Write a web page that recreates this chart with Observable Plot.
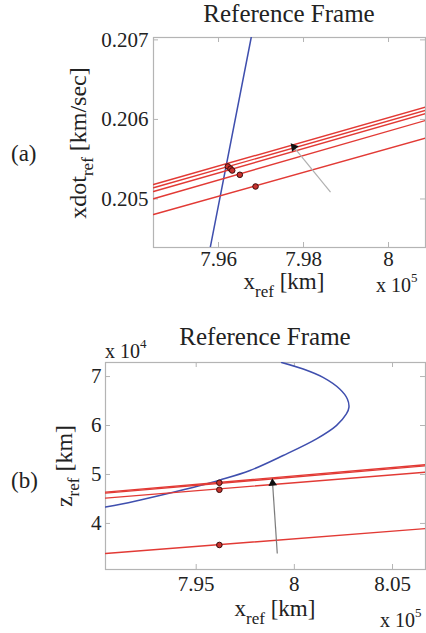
<!DOCTYPE html>
<html>
<head>
<meta charset="utf-8">
<script src="https://cdn.jsdelivr.net/npm/d3@7"></script>
<script src="https://cdn.jsdelivr.net/npm/@observablehq/plot@0.6"></script>
<style>
  html, body { margin: 0; padding: 0; background: #fff; }
  #root { position: relative; width: 426px; height: 633px; overflow: hidden; background: #fff;
          font-family: "Liberation Serif", "Times New Roman", serif; }
  #root > svg, #root > div { position: absolute; left: 0; }
  #root svg text { font-family: "Liberation Serif", "Times New Roman", serif; }
  #overlay { pointer-events: none; }
</style>
</head>
<body>
<div id="root"></div>
<script>
// ---------- Panel (a): xdot_ref vs x_ref ----------
const xTicksA = [7.96, 7.98, 8.00];          // x 10^5 km
const yTicksA = [0.205, 0.206, 0.207];       // km/sec
const xDomainA = [7.9447, 8.0087];
const yDomainA = [0.20439, 0.20703];

const redXA = [7.9447, 8.0087];
const redA1 = [0.205182, 0.206155];
const redA2 = [0.205141, 0.206113];
const redA3 = [0.205094, 0.206072];
const redA4 = [0.205003, 0.205987];
const redA5 = [0.204805, 0.205765];

const blueXA = [7.95805, 7.96769];
const blueYA = [0.20439, 0.20703];

const markXA = [7.96219, 7.96282, 7.96322, 7.96501, 7.96871];
const markYA = [0.205409, 0.205380, 0.205358, 0.205304, 0.205157];

const arrowXA = [7.98635, 7.97772];   // tail, tip
const arrowYA = [0.205086, 0.205652];

// ---------- Panel (b): z_ref vs x_ref ----------
const xTicksB = [7.95, 8.00, 8.05];          // x 10^5 km
const yTicksB = [4, 5, 6, 7];                // x 10^4 km
const xDomainB = [7.9038, 8.0668];
const yDomainB = [3.059, 7.287];

const blueXB = [7.9935, 8.0045, 8.0146, 8.0231, 8.0270, 8.0278, 8.0265, 8.0214, 8.0113, 7.9943, 7.9774, 7.9622, 7.9520, 7.9351, 7.9182, 7.9038];
const blueZB = [7.287, 7.153, 6.982, 6.745, 6.542, 6.371, 6.236, 5.998, 5.727, 5.387, 5.081, 4.888, 4.776, 4.607, 4.450, 4.334];

const redXB = [7.9038, 8.0668];
const redB1 = [4.640, 5.198];
const redB2 = [4.619, 5.177];
const redB3 = [4.517, 5.047];
const redB4 = [3.385, 3.894];

const markXB = [7.9618, 7.9618, 7.9618];
const markZB = [4.831, 4.688, 3.560];

const arrowXB = [7.9913, 7.9889];     // tail, tip
const arrowZB = [3.385, 4.823];

// ---------- helpers ----------
const FONT = '"Liberation Serif", "Times New Roman", serif';
const RED = "#e23a35", BLUE = "#3f4fae", FRAME = "#b4b4b4";
const fmt = d => String(+d.toFixed(3));

function lineTable(xs, series) {
  const out = [];
  series.forEach((ys, k) => xs.forEach((x, i) => out.push({k, x, y: ys[i]})));
  return out;
}
function zipXY(xs, ys) { return xs.map((x, i) => ({x, y: ys[i]})); }

function panel({width, height, mt, mb, ml, mr, xDomain, yDomain, xTicks, yTicks, yFmt,
                reds, blue, blueCurve, marks, arrow, arrowColor, arrowRotate, xPad, yPad}) {
  const fh = height - mt - mb, fw = width - ml - mr;
  return Plot.plot({
    width, height, marginTop: mt, marginBottom: mb, marginLeft: ml, marginRight: mr,
    style: {fontFamily: FONT, color: "#222", background: "transparent", overflow: "visible"},
    x: {domain: xDomain},
    y: {domain: yDomain},
    marks: [
      Plot.frame({stroke: FRAME, strokeWidth: 1.2}),
      // inward ticks (MATLAB style)
      Plot.tickX(xTicks, {x: d => d, insetTop: fh - 5, stroke: FRAME}),
      Plot.tickX(xTicks, {x: d => d, insetBottom: fh - 5, stroke: FRAME}),
      Plot.tickY(yTicks, {y: d => d, insetRight: fw - 5, stroke: FRAME}),
      Plot.tickY(yTicks, {y: d => d, insetLeft: fw - 5, stroke: FRAME}),
      Plot.axisX(xTicks, {tickSize: 0, tickPadding: xPad, fontSize: 21, fontFamily: FONT, fill: "#222",
                          tickFormat: fmt, label: null}),
      Plot.axisY(yTicks, {tickSize: 0, tickPadding: yPad, fontSize: 21, fontFamily: FONT, fill: "#222",
                          tickFormat: yFmt, label: null}),
      Plot.line(blue, {x: "x", y: "y", stroke: BLUE, strokeWidth: 1.5, curve: blueCurve, clip: true}),
      Plot.line(reds, {x: "x", y: "y", z: "k", stroke: RED, strokeWidth: 1.4, clip: true}),
      Plot.link([arrow], {x1: d => d[0].x, y1: d => d[0].y, x2: d => d[1].x, y2: d => d[1].y,
                          stroke: arrowColor, strokeWidth: 1.2}),
      Plot.dot([arrow[1]], {x: "x", y: "y", symbol: "triangle", r: 3.2, fill: "#111", stroke: "none", rotate: arrowRotate}),
      Plot.dot(marks, {x: "x", y: "y", r: 2.8, fill: "#c7322e", stroke: "#3a0d0d", strokeWidth: 1})
    ]
  });
}

const root = document.getElementById("root");

const plotA = panel({
  width: 426, height: 310, mt: 37, mb: 63, ml: 153, mr: 1,
  xDomain: xDomainA, yDomain: yDomainA, xTicks: xTicksA, yTicks: yTicksA,
  yFmt: d => d.toFixed(3),
  reds: lineTable(redXA, [redA1, redA2, redA3, redA4, redA5]),
  blue: zipXY(blueXA, blueYA), blueCurve: "linear",
  marks: zipXY(markXA, markYA),
  arrow: zipXY(arrowXA, arrowYA), arrowColor: "#b0b0b0", arrowRotate: -39,
  xPad: 4, yPad: 5
});
plotA.style.top = "0px";
root.appendChild(plotA);

const plotB = panel({
  width: 426, height: 323, mt: 52, mb: 64, ml: 105, mr: 1,
  xDomain: xDomainB, yDomain: yDomainB, xTicks: xTicksB, yTicks: yTicksB,
  yFmt: d => String(d),
  reds: lineTable(redXB, [redB1, redB2, redB3, redB4]),
  blue: zipXY(blueXB, blueZB), blueCurve: "catmull-rom",
  marks: zipXY(markXB, markZB),
  arrow: zipXY(arrowXB, arrowZB), arrowColor: "#7a7a7a", arrowRotate: -4,
  xPad: 7, yPad: 4
});
plotB.style.top = "310px";
root.appendChild(plotB);

// ---------- titles, axis labels, panel letters (text overlay) ----------
const ov = d3.select(root).append("svg")
  .attr("id", "overlay").attr("width", 426).attr("height", 633)
  .style("top", "0px").style("font-family", FONT).style("fill", "#222");

function label(x, y, parts, {anchor = "start", size = 24, rotate = 0} = {}) {
  const t = ov.append("text")
    .attr("transform", `translate(${x},${y}) rotate(${rotate})`)
    .attr("text-anchor", anchor).attr("font-size", size);
  parts.forEach(p => {
    const s = t.append("tspan").text(p.t);
    if (p.size) s.attr("font-size", p.size);
    if (p.dy) s.attr("dy", p.dy);
  });
}

// panel (a)
label(289, 22, [{t: "Reference Frame"}], {anchor: "middle", size: 25});
label(11, 161, [{t: "(a)"}], {size: 23});
label(86, 143, [{t: "xdot"}, {t: "ref", size: 17, dy: 7}, {t: " [km/sec]", dy: -7}], {anchor: "middle", size: 24, rotate: -90});
label(284, 289, [{t: "x"}, {t: "ref", size: 17, dy: 8}, {t: " [km]", dy: -8}], {anchor: "middle", size: 23});
label(376, 292, [{t: "x 10"}, {t: "5", size: 13, dy: -10}], {size: 20});

// panel (b)
label(265, 345, [{t: "Reference Frame"}], {anchor: "middle", size: 25});
label(105, 358, [{t: "x 10"}, {t: "4", size: 13, dy: -10}], {size: 20});
label(11, 488, [{t: "(b)"}], {size: 23});
label(72, 466, [{t: "z"}, {t: "ref", size: 17, dy: 7}, {t: " [km]", dy: -7}], {anchor: "middle", size: 24, rotate: -90});
label(275, 616, [{t: "x"}, {t: "ref", size: 17, dy: 8}, {t: " [km]", dy: -8}], {anchor: "middle", size: 23});
label(380, 627, [{t: "x 10"}, {t: "5", size: 13, dy: -10}], {size: 20});
</script>
</body>
</html>
